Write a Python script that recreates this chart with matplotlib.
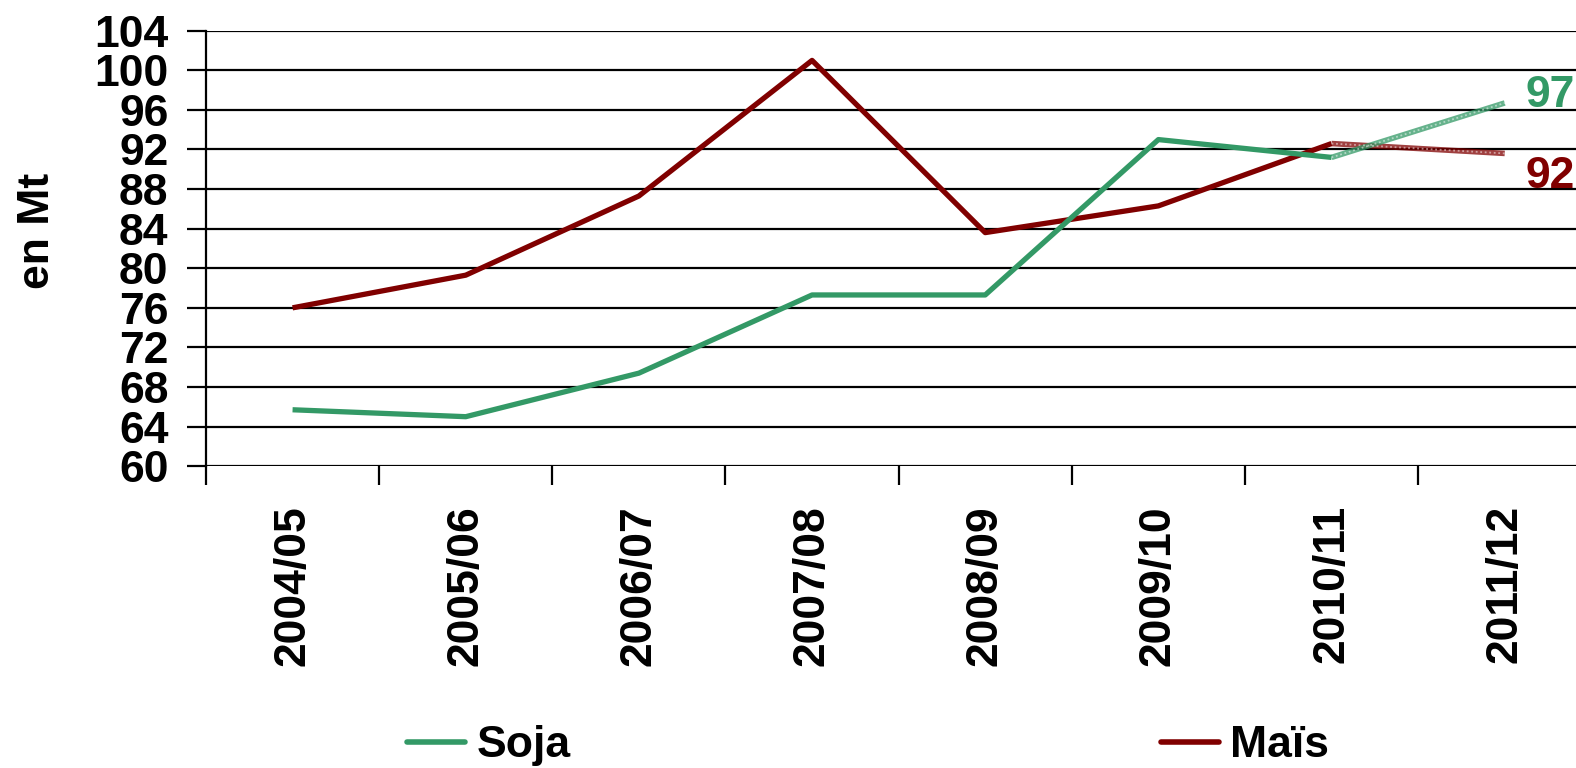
import numpy as np
import matplotlib
matplotlib.use('Agg')
import matplotlib.pyplot as plt
from matplotlib.lines import Line2D

plt.rcParams['font.family'] = ['Liberation Sans', 'DejaVu Sans']
plt.rcParams['font.weight'] = 'bold'

campagnes = ['2004/05', '2005/06', '2006/07', '2007/08', '2008/09',
             '2009/10', '2010/11', '2011/12']
soja = [65.7, 65.0, 69.4, 77.3, 77.3, 93.0, 91.2, 96.7]
mais = [76.0, 79.3, 87.3, 101.0, 83.6, 86.3, 92.6, 91.6]
yticks = list(range(60, 105, 4))

green = '#339966'
red = '#800000'

fig = plt.figure(figsize=(15.76, 7.68), dpi=100)
ax = fig.add_axes([0.1307, 0.393, 0.879, 0.567])

x = np.arange(len(campagnes))
fs = 32

for y in yticks:
    ax.axhline(y, color='black', lw=1.6, zorder=1)

# solid part (observed), textured last segment (estimate)
ax.plot(x[:-1], mais[:-1], color=red, lw=3.8, solid_capstyle='butt', zorder=3)
ax.plot(x[:-1], soja[:-1], color=green, lw=3.8, solid_capstyle='butt', zorder=3)
for vals, c in [(mais, red), (soja, green)]:
    ax.plot(x[-2:], vals[-2:], color=c, lw=4, alpha=0.75, solid_capstyle='butt', zorder=3)
    ax.plot(x[-2:], vals[-2:], color='white', lw=1.3, ls=(0, (1, 1.5)), alpha=0.5, zorder=4)

ax.text(x[-1] + 0.12, soja[-1] + 0.8, '97', color=green, fontsize=fs, fontweight='bold',
        ha='left', va='center')
ax.text(x[-1] + 0.12, mais[-1] - 2.3, '92', color=red, fontsize=fs, fontweight='bold',
        ha='left', va='center')

ax.set_xlim(-0.5, 7.5)
ax.set_ylim(60, 104)
ax.set_yticks(yticks)
ax.set_yticklabels([str(v) for v in yticks], fontsize=fs, fontweight='bold')
ax.tick_params(axis='y', length=14, width=1.6, direction='out', pad=13)

ax.set_xticks(np.arange(-0.5, 8, 1))
ax.set_xticklabels([])
ax.tick_params(axis='x', which='major', length=14, width=1.6, direction='out')
ax.set_xticks(x, minor=True)
ax.set_xticklabels(campagnes, minor=True, rotation=90, fontsize=fs, fontweight='bold')
ax.tick_params(axis='x', which='minor', length=0, pad=28)

for s in ['top', 'right', 'bottom']:
    ax.spines[s].set_visible(False)
ax.spines['left'].set_linewidth(1.6)

ax.set_ylabel('en Mt', fontsize=fs, fontweight='bold')
ax.yaxis.set_label_coords(-0.107, 0.54)

handles = [Line2D([], [], color=green, lw=4, solid_capstyle='round'),
           Line2D([], [], color=red, lw=4, solid_capstyle='round')]
fig.legend(handles, ['Soja', 'Maïs'], loc='center', bbox_to_anchor=(0.551, 0.029),
           ncol=2, frameon=False, handlelength=1.3, handletextpad=0.25,
           columnspacing=13.3, prop={'weight': 'bold', 'size': fs})

plt.savefig('out.png', dpi=100)
